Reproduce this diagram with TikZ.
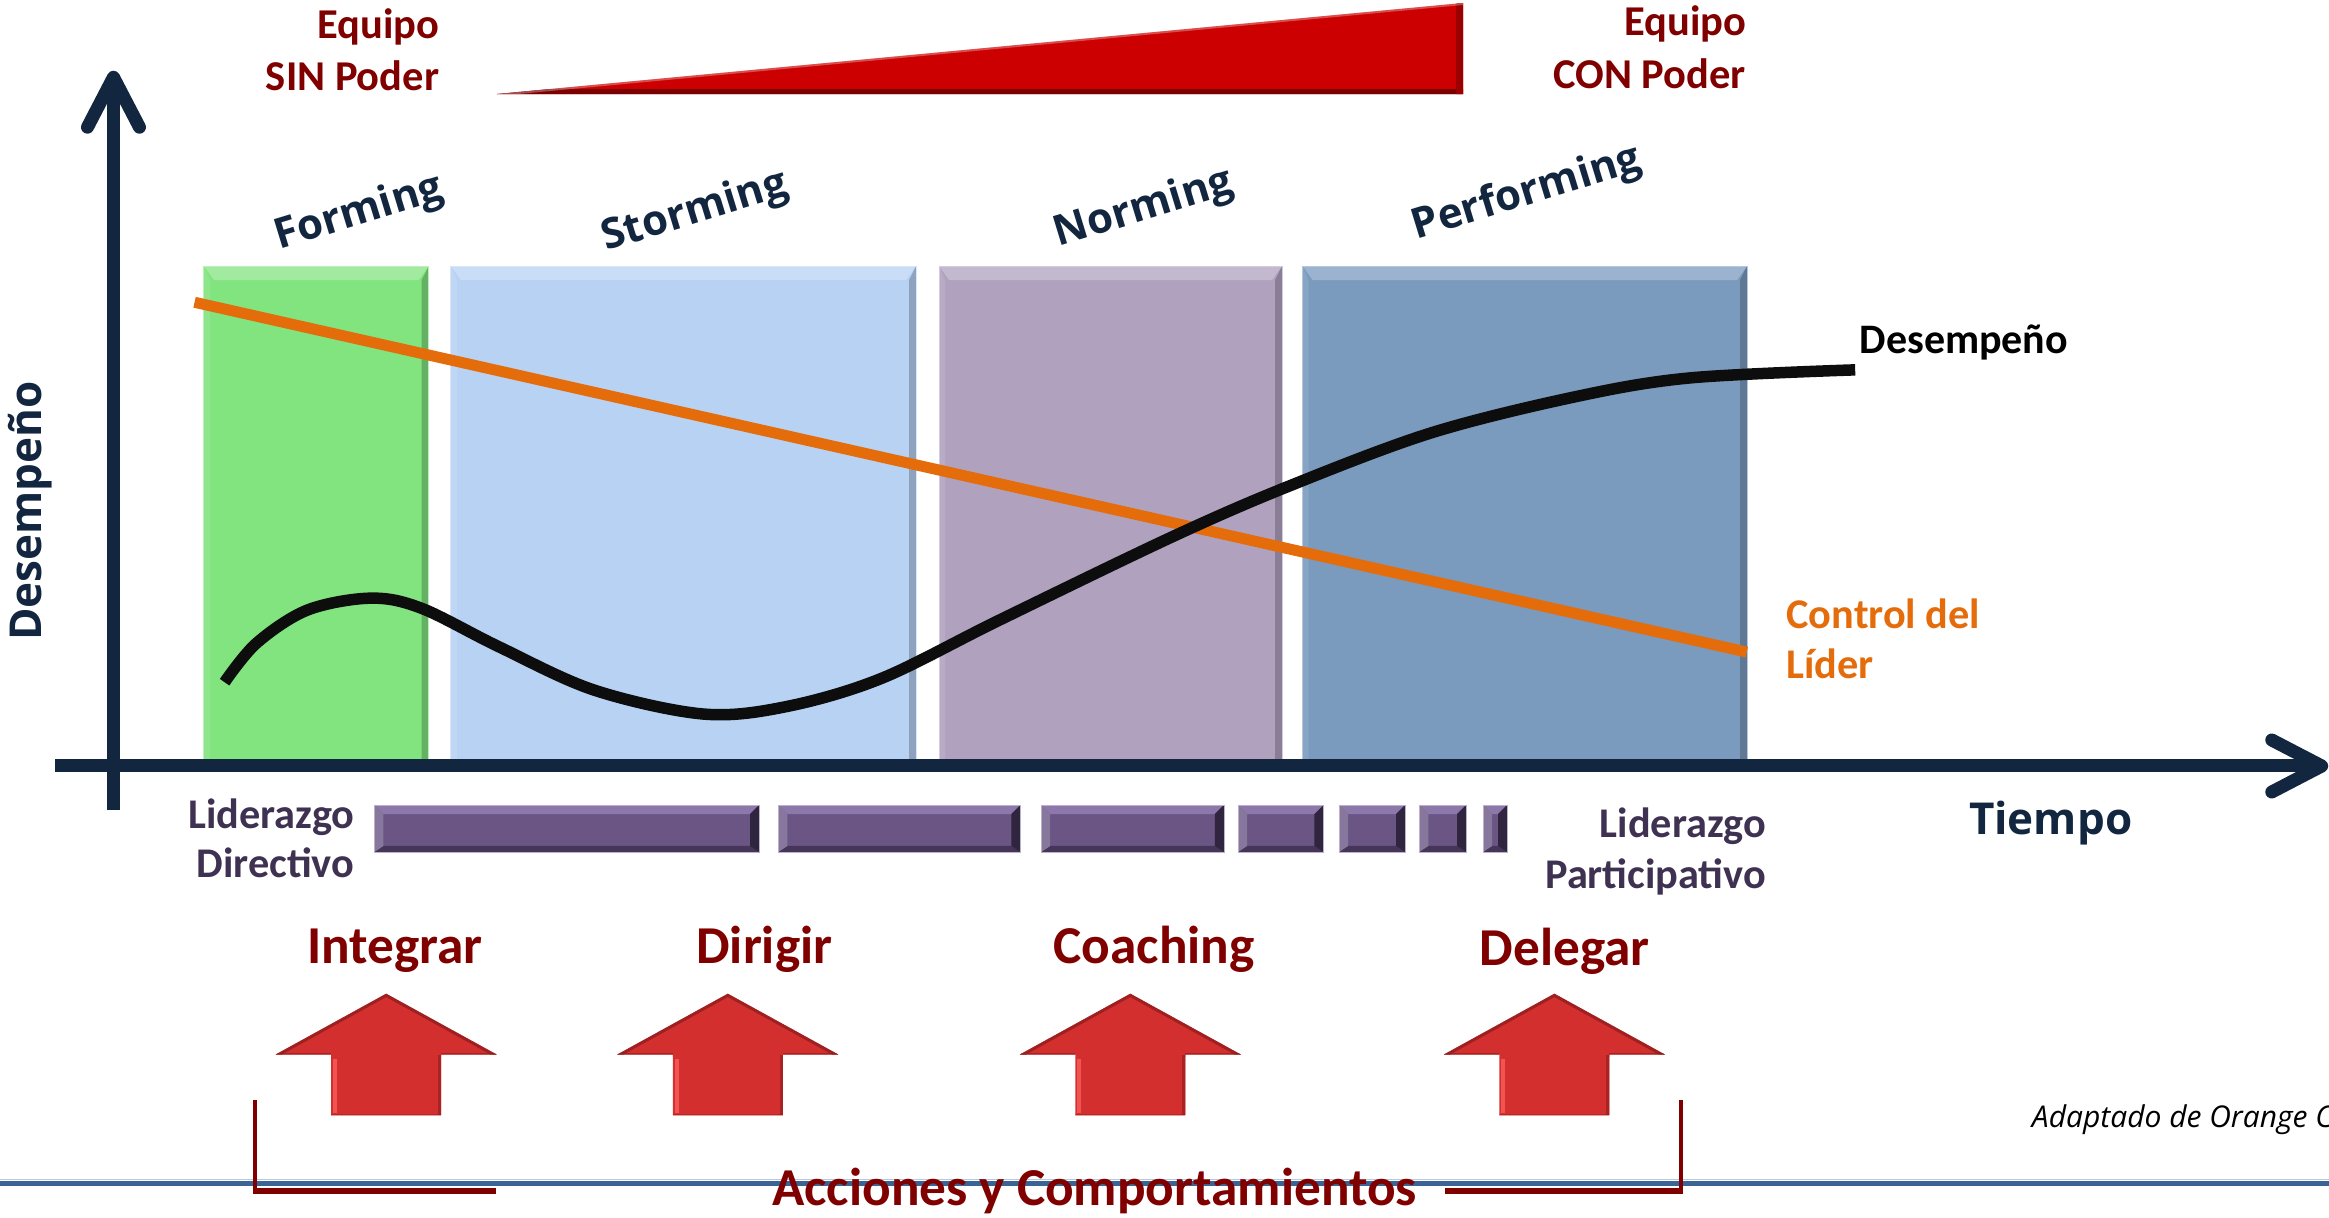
\documentclass[tikz,border=0pt]{standalone}
\usepackage{fontspec}
\setmainfont{Carlito}
\newfontfamily\osans{Open Sans}
\usetikzlibrary{arrows.meta,calc,fit}
\definecolor{navy}{HTML}{13263F}
\definecolor{dred}{HTML}{800000}
\definecolor{orng}{HTML}{E46C0A}
\definecolor{purtxt}{HTML}{3F3151}
\definecolor{barpur}{HTML}{6A5585}
\definecolor{barlight}{HTML}{8C78AA}
\definecolor{bardark}{HTML}{453659}
\definecolor{bardarker}{HTML}{30253F}
\definecolor{gbox}{HTML}{82E47F}
\definecolor{lbbox}{HTML}{B8D2F4}
\definecolor{pbox}{HTML}{B0A2BF}
\definecolor{sbbox}{HTML}{7A9ABE}
\definecolor{arrred}{HTML}{D32F2F}
\definecolor{arrdark}{HTML}{8E1C1C}
\definecolor{arrlight}{HTML}{F25454}
\definecolor{wedred}{HTML}{CC0000}
\definecolor{wedark}{HTML}{7A0000}
\definecolor{botline}{HTML}{3A6496}
\definecolor{curveblk}{HTML}{0D0D0D}
\begin{document}
\begin{tikzpicture}[x=1.4853pt,y=-1.4853pt,
  txt/.style={inner sep=0pt, outer sep=0pt},
  redtxt/.style={txt, text=dred, font=\bfseries\fontsize{42.5}{50}\selectfont},
  leadtxt/.style={txt, text=purtxt, font=\bfseries\fontsize{42.3}{50}\selectfont},
  acttxt/.style={txt, text=dred, font=\bfseries\fontsize{53.3}{62}\selectfont},
  phasetxt/.style={txt, text=navy, font=\osans\bfseries\fontsize{42}{50}\selectfont, rotate=17},
  phasebox/.style={inner sep=0pt, outer sep=0pt, fill=#1, draw=#1!55!white, line width=1pt,
    path picture={
      \fill[white,opacity=0.25] (path picture bounding box.north west) -- (path picture bounding box.north east)
        -- ([shift={(-10pt,-14pt)}]path picture bounding box.north east) -- ([shift={(10pt,-14pt)}]path picture bounding box.north west) -- cycle;
      \fill[black,opacity=0.22] (path picture bounding box.north east) -- (path picture bounding box.south east)
        -- ([shift={(-7pt,0pt)}]path picture bounding box.south east) -- ([shift={(-7pt,-14pt)}]path picture bounding box.north east) -- cycle;
      \fill[white,opacity=0.10] (path picture bounding box.north west) -- (path picture bounding box.south west)
        -- ([shift={(6pt,0pt)}]path picture bounding box.south west) -- ([shift={(6pt,-14pt)}]path picture bounding box.north west) -- cycle;
    }},
  leadbar/.style={inner sep=0pt, outer sep=0pt, fill=barpur, draw=barpur!45!white, line width=0.8pt,
    path picture={
      \fill[barlight] (path picture bounding box.north west) -- (path picture bounding box.north east)
        -- ([shift={(-9pt,-9pt)}]path picture bounding box.north east) -- ([shift={(9pt,-9pt)}]path picture bounding box.north west) -- cycle;
      \fill[bardark] (path picture bounding box.south west) -- (path picture bounding box.south east)
        -- ([shift={(-9pt,6pt)}]path picture bounding box.south east) -- ([shift={(9pt,6pt)}]path picture bounding box.south west) -- cycle;
      \fill[bardarker] (path picture bounding box.north east) -- (path picture bounding box.south east)
        -- ([shift={(-9pt,6pt)}]path picture bounding box.south east) -- ([shift={(-9pt,-9pt)}]path picture bounding box.north east) -- cycle;
      \fill[barpur!80!white] (path picture bounding box.north west) -- (path picture bounding box.south west)
        -- ([shift={(9pt,6pt)}]path picture bounding box.south west) -- ([shift={(9pt,-9pt)}]path picture bounding box.north west) -- cycle;
    }},
  axisline/.style={draw=navy, line width=13pt, -{Straight Barb[round, length=50pt, width=52pt]}},
]
\useasboundingbox (0,0) rectangle (1568,820);

% --- top: team empowerment wedge ---
\node[redtxt, anchor=base east] (eqL1) at (295.6,25.6) {Equipo};
\node[redtxt, anchor=base east] (eqL2) at (295.6,60.6) {SIN Poder};
\node[redtxt, anchor=base east] (eqR1) at (1175.5,24.2) {Equipo};
\node[redtxt, anchor=base east] (eqR2) at (1175.5,59.6) {CON Poder};
\coordinate (wtip) at (334.6,63.3);
\coordinate (wtop) at (985,2);
\coordinate (wbot) at (985,63.3);
\path[fill=wedred, path picture={
    \fill[wedark] (300,59.6) rectangle (990,64);
    \fill[wedark!60!wedred] (980.5,0) rectangle (990,64);
    \draw[white, opacity=0.3, line width=4pt] (wtip) -- (wtop);
  }] (wtip) -- (wtop) -- (wbot) -- cycle;

% --- phase boxes ---
\node[phasebox=gbox, fit={(137.3,179.1) (288.6,512)}] (bform) {};
\node[phasebox=lbbox, fit={(303.6,179.1) (616.7,512)}] (bstorm) {};
\node[phasebox=pbox, fit={(632.2,179.1) (863.1,512)}] (bnorm) {};
\node[phasebox=sbbox, fit={(877,179.1) (1176.2,512)}] (bperf) {};

\node[phasetxt] (tform) at (241.7,144) {Forming};
\node[phasetxt] (tstorm) at (468,143) {Storming};
\node[phasetxt] (tnorm) at (770,141) {Norming};
\node[phasetxt] (tperf) at (1028,130.5) {Performing};

% --- leader control line ---
\coordinate (cstart) at (131,203.5);
\coordinate (cend) at (1176,439);
\draw[orng, line width=11pt] (cstart) -- (cend);

% --- performance curve ---
\draw[curveblk, line width=11.5pt] plot[smooth, tension=0.55] coordinates {
  (151.2,459.3) (172.7,433) (207,410.7) (249.8,402.7) (284,409.6) (336,435.5)
  (400,464.6) (473.3,480.7) (529,475.8) (593.5,456.7) (673,417.4) (789,361.5)
  (866.5,327.8) (963,291.6) (1059.7,267.3) (1137,254.5) (1249,249)};

\node[txt, anchor=base west, font=\bfseries\fontsize{42}{50}\selectfont] (ldes) at (1252,237.8) {Desempeño};
\node[txt, anchor=base west, text=orng, font=\bfseries\fontsize{42.3}{50}\selectfont] (lctl1) at (1202.8,422.8) {Control del};
\node[txt, anchor=base west, text=orng, font=\bfseries\fontsize{42.3}{50}\selectfont] (lctl2) at (1202.8,456.8) {Líder};

% --- axes ---
\coordinate (xo) at (37,515.7);
\coordinate (xe) at (1567.5,515.7);
\coordinate (yo) at (76.4,545.5);
\coordinate (ye) at (76.4,47.6);
\draw[axisline] (yo) -- (ye);
\draw[axisline] (xo) -- (xe);
\node[txt, rotate=90, text=navy, font=\osans\bfseries\fontsize{44}{52}\selectfont] (ylab) at (20,344) {Desempeño};
\node[txt, anchor=base, text=navy, font=\osans\bfseries\fontsize{44}{52}\selectfont] (xlab) at (1380.6,561.5) {Tiempo};

% --- leadership style bars ---
\node[leadtxt, anchor=base east] (ld1) at (238.6,557.5) {Liderazgo};
\node[leadtxt, anchor=base east] (ld2) at (238.6,591) {Directivo};
\node[leadtxt, anchor=base east] (lp1) at (1189,564) {Liderazgo};
\node[leadtxt, anchor=base east] (lp2) at (1189,598) {Participativo};
\node[leadbar, fit={(252,542) (511,573.6)}] (bar1) {};
\node[leadbar, fit={(524,542) (687,573.6)}] (bar2) {};
\node[leadbar, fit={(701,542) (824,573.6)}] (bar3) {};
\node[leadbar, fit={(833.5,542) (891,573.6)}] (bar4) {};
\node[leadbar, fit={(901.5,542) (946,573.6)}] (bar5) {};
\node[leadbar, fit={(955.5,542) (987,573.6)}] (bar6) {};
\node[leadbar, fit={(998.5,542) (1014.6,573.6)}] (bar7) {};

% --- actions ---
\node[acttxt, anchor=base] (aint) at (265.8,648.5) {Integrar};
\node[acttxt, anchor=base] (adir) at (514.6,648.5) {Dirigir};
\node[acttxt, anchor=base] (acoa) at (777,648.5) {Coaching};
\node[acttxt, anchor=base] (adel) at (1053.6,650) {Delegar};

\foreach \cx in {260,490,761,1046.5}{
  \path[fill=arrred, path picture={
      \draw[arrdark, line width=6pt, opacity=0.75] (\cx-74.5,710) -- (\cx,669) -- (\cx+74.5,710);
      \draw[arrdark, line width=4pt, opacity=0.6] (\cx-74.5,710) -- (\cx-37,710);
      \draw[arrdark, line width=4pt, opacity=0.6] (\cx+74.5,710) -- (\cx+37,710);
      \draw[arrdark, line width=6pt, opacity=0.6] (\cx+37,710) -- (\cx+37,751);
      \draw[arrlight, line width=4pt] (\cx-34.5,713) -- (\cx-34.5,749);
      \draw[arrdark, line width=3pt, opacity=0.4] (\cx-37,751) -- (\cx+37,751);
    }]
    (\cx,669) -- (\cx+74.5,710) -- (\cx+37,710) -- (\cx+37,751) -- (\cx-37,751)
    -- (\cx-37,710) -- (\cx-74.5,710) -- cycle;
}

% --- footer line ---
\coordinate (fl) at (0,796.5);
\coordinate (fr) at (1568,796.5);
\draw[botline!35!white, line width=1.5pt] ([yshift=3.5pt]fl) -- ([yshift=3.5pt]fr);
\draw[botline, line width=5pt] (fl) -- (fr);

% --- bracket ---
\coordinate (bl1) at (171.5,740.6);
\coordinate (bl2) at (171.5,802);
\coordinate (bl3) at (334,802);
\coordinate (br1) at (1132,740.6);
\coordinate (br2) at (1132,802);
\coordinate (br3) at (973,802);
\draw[dred, line width=4pt] (bl1) -- ([yshift=-2pt]bl2);
\draw[dred, line width=6pt] ([xshift=-2pt]bl2) -- (bl3);
\draw[dred, line width=4pt] (br1) -- ([yshift=-2pt]br2);
\draw[dred, line width=6pt] ([xshift=2pt]br2) -- (br3);
\node[acttxt, anchor=base] (acc) at (737,811.3) {Acciones y Comportamientos};

% --- source note ---
\begin{scope}
\clip (0,0) rectangle (1568,820);
\node[txt, anchor=base west, font=\osans\itshape\fontsize{30}{36}\selectfont] (src) at (1368,758.8) {Adaptado de Orange Co};
\end{scope}
\end{tikzpicture}
\end{document}
